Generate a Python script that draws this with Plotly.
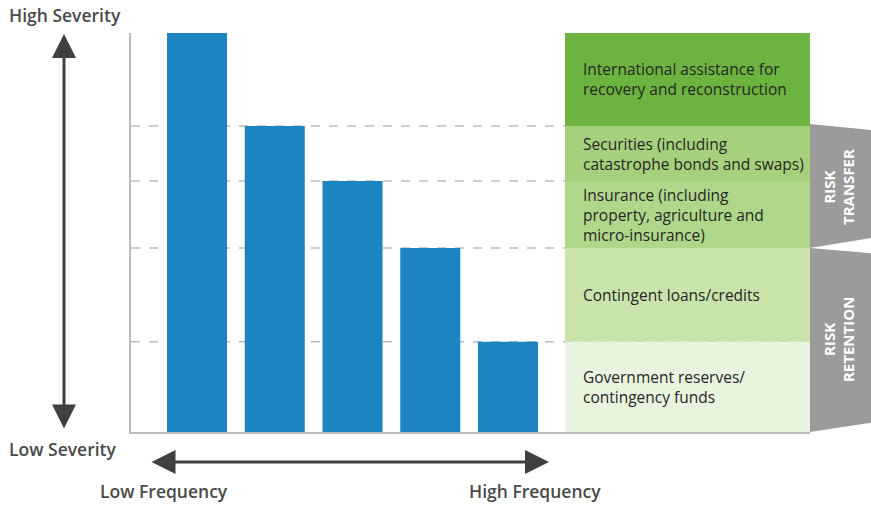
import plotly.graph_objects as go

# ---- data ----
bar_positions = [0, 1, 2, 3, 4]
bar_values = [100, 76.7, 62.9, 46.1, 22.6]
band_labels = [
    "International assistance for<br>recovery and reconstruction",
    "Securities (including<br>catastrophe bonds and swaps)",
    "Insurance (including<br>property, agriculture and<br>micro-insurance)",
    "Contingent loans/credits",
    "Government reserves/<br>contingency funds",
]
band_colors = ["#6cb33f", "#a6d07c", "#b0d68a", "#c9e4aa", "#e9f4de"]
group_labels = ["RISK<br>TRANSFER", "RISK<br>RETENTION"]

W, H = 871, 505
L, R, T, B = 131, 61, 33, 73
box_x0, box_x1 = 4.733, 7.884
text_x = 4.94
x_range = [-0.849, 7.884]
FONT = "Open Sans"

fig = go.Figure()
fig.add_trace(go.Bar(
    x=bar_positions, y=bar_values, width=0.772,
    marker=dict(color="#1b84c1", line=dict(width=0)),
    hoverinfo="skip",
))

# band boundaries from bar values
levels = sorted(bar_values + [0])
tops = levels[::-1][:-1]
bots = levels[::-1][1:]
shapes = []
annotations = []
for i, (t, b) in enumerate(zip(tops, bots)):
    shapes.append(dict(type="rect", xref="x", yref="y", x0=box_x0, x1=box_x1,
                       y0=b, y1=t, fillcolor=band_colors[i], line=dict(width=0),
                       layer="below"))
    annotations.append(dict(x=text_x, y=(t + b) / 2, xref="x", yref="y",
                            text=band_labels[i], showarrow=False, xanchor="left",
                            yanchor="middle", align="left",
                            font=dict(family=FONT, size=15.5, color="#262626")))

# dashed reference lines at bar tops
for v in bar_values[1:]:
    shapes.append(dict(type="line", xref="paper", yref="y", x0=0, x1=1, y0=v, y1=v,
                       line=dict(color="#bdbdbd", width=1.5, dash="dash"), layer="below"))

# gray group shapes on the right
xr = (W - L) / (W - L - R)
tr_top, tr_bot = bar_values[1], bar_values[3]
re_top, re_bot = bar_values[3], 0
shapes.append(dict(type="path", xref="paper", yref="y",
                   path=f"M 1,{tr_top+0.5} L {xr},{tr_top-1} L {xr},{tr_bot+2.5} L 1,{tr_bot} Z",
                   fillcolor="#9b9b9b", line=dict(width=0)))
shapes.append(dict(type="path", xref="paper", yref="y",
                   path=f"M 1,{re_top} L {xr},{re_top-1.3} L {xr},{re_bot+2.3} L 1,{re_bot} Z",
                   fillcolor="#9b9b9b", line=dict(width=0)))
xc = (839 - L) / (W - L - R)
annotations.append(dict(x=xc, y=(tr_top + tr_bot) / 2, xref="paper", yref="y",
                        text="<b>" + group_labels[0] + "</b>", showarrow=False, textangle=-90,
                        xanchor="center", yanchor="middle",
                        font=dict(family=FONT, size=15, color="white")))
annotations.append(dict(x=xc, y=(re_top + re_bot) / 2, xref="paper", yref="y",
                        text="<b>" + group_labels[1] + "</b>", showarrow=False, textangle=-90,
                        xanchor="center", yanchor="middle",
                        font=dict(family=FONT, size=15, color="white")))

def px(xp):
    return (xp - L) / (W - L - R)

def py(yp):
    return (H - B - yp) / (H - T - B)

arrow_col = "#404040"
annotations.append(dict(x=px(64), y=py(34), xref="paper", yref="paper",
                        ax=0, ay=396, axref="pixel", ayref="pixel", text="",
                        showarrow=True, arrowhead=2, startarrowhead=2, arrowside="end+start",
                        arrowsize=1.6, startarrowsize=1.6, arrowwidth=3, arrowcolor=arrow_col))
annotations.append(dict(x=px(549), y=py(462), xref="paper", yref="paper",
                        ax=-399, ay=0, axref="pixel", ayref="pixel", text="",
                        showarrow=True, arrowhead=2, startarrowhead=2, arrowside="end+start",
                        arrowsize=1.6, startarrowsize=1.6, arrowwidth=3, arrowcolor=arrow_col))

lab_font = dict(family=FONT, size=17.5, color="#4a4a4a", weight=600)
annotations.append(dict(x=px(7), y=py(15), xref="paper", yref="paper", text="High Severity",
                        showarrow=False, xanchor="left", yanchor="middle", font=lab_font))
annotations.append(dict(x=px(7), y=py(449), xref="paper", yref="paper", text="Low Severity",
                        showarrow=False, xanchor="left", yanchor="middle", font=lab_font))
annotations.append(dict(x=px(164), y=py(491), xref="paper", yref="paper", text="Low Frequency",
                        showarrow=False, xanchor="center", yanchor="middle", font=lab_font))
annotations.append(dict(x=px(535), y=py(491), xref="paper", yref="paper", text="High Frequency",
                        showarrow=False, xanchor="center", yanchor="middle", font=lab_font))

fig.update_layout(
    width=W, height=H,
    margin=dict(l=L, r=R, t=T, b=B),
    paper_bgcolor="white", plot_bgcolor="white",
    showlegend=False,
    shapes=shapes, annotations=annotations,
    xaxis=dict(range=x_range, showgrid=False, zeroline=False, showticklabels=False,
               ticks="", showline=True, linecolor="#bdbdbd", linewidth=1.5, fixedrange=True),
    yaxis=dict(range=[0, 100], showgrid=False, zeroline=False, showticklabels=False,
               ticks="", showline=True, linecolor="#bdbdbd", linewidth=1.5, fixedrange=True),
)
fig.write_html("out.html")
